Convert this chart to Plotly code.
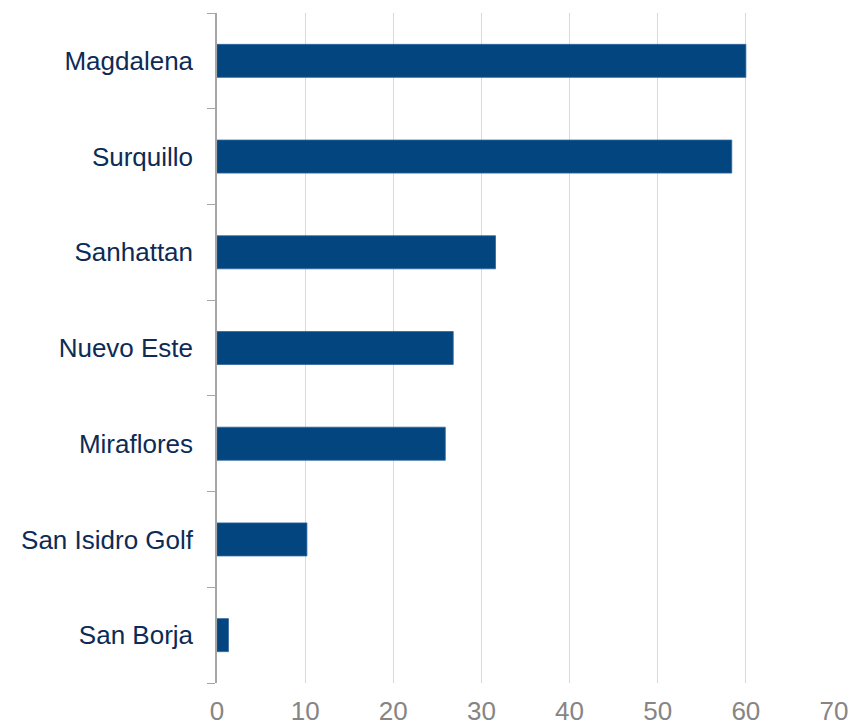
import plotly.graph_objects as go

categories = ["San Borja", "San Isidro Golf", "Miraflores", "Nuevo Este", "Sanhattan", "Surquillo", "Magdalena"]
values = [1.3, 10.2, 25.9, 26.8, 31.6, 58.4, 60.0]
x_ticks = [0, 10, 20, 30, 40, 50, 60, 70]

fig = go.Figure(go.Bar(
    x=values, y=categories, orientation="h",
    marker=dict(color="#02457f", line=dict(color="#2e64a0", width=0.8)),
    hoverinfo="skip",
))

fig.update_layout(
    width=850, height=726,
    margin=dict(l=217, r=16, t=13, b=43),
    paper_bgcolor="white", plot_bgcolor="white",
    bargap=0.655,
    showlegend=False,
    font=dict(family="Liberation Sans, Arial, sans-serif"),
)
fig.update_xaxes(
    range=[0, 70], tickvals=x_ticks,
    showgrid=True, gridcolor="#d9d9d9", gridwidth=1,
    zeroline=False, showline=False,
    tickfont=dict(size=26, color="#858585"),
    ticks="", ticklabelstandoff=10, automargin=False,
)
fig.update_yaxes(
    categoryorder="array", categoryarray=categories,
    tickson="boundaries", ticks="outside", ticklen=8, tickcolor="#a6a6a6",
    showline=True, linecolor="#a6a6a6", linewidth=1.5,
    showgrid=False, zeroline=False,
    tickfont=dict(size=26, color="#0d2b55"),
    ticklabelstandoff=17, automargin=False,
)

fig.write_html("out.html")
